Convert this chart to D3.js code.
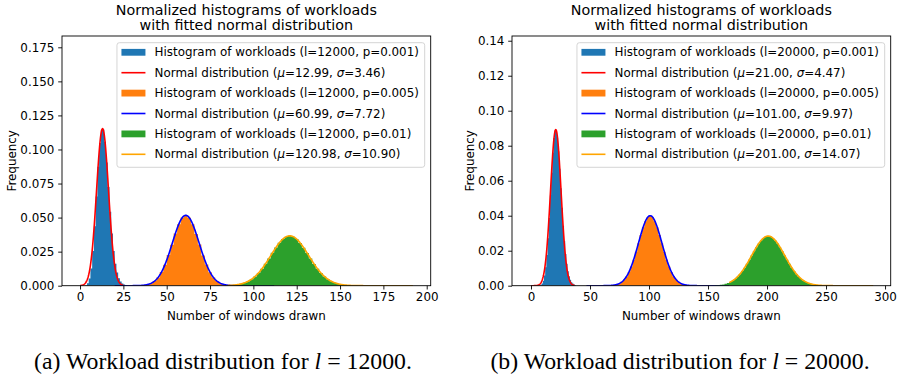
<!DOCTYPE html>
<html>
<head>
<meta charset="utf-8">
<script src="https://cdn.jsdelivr.net/npm/d3@7/dist/d3.min.js"></script>
<style>
  html, body { margin: 0; padding: 0; background: #fff; }
  svg { display: block; }
  .tick text, .lbl { font-family: "DejaVu Sans", sans-serif; }
</style>
</head>
<body>
<svg id="chart" width="897" height="381"></svg>
<script>
// ---- data -------------------------------------------------------------
const sampleLengths = [12000, 20000];
const probabilities = ["0.001", "0.005", "0.01"];

// fitted normal parameters per panel (p = 0.001, 0.005, 0.01)
const muA = [12.99, 60.99, 120.98];
const sigmaA = [3.46, 7.72, 10.90];
const muB = [21.00, 101.00, 201.00];
const sigmaB = [4.47, 9.97, 14.07];

// x-extent of each fitted curve (min/max observed workload)
const fitRangeA = [[0, 25], [20, 112], [85, 192]];
const fitRangeB = [[0, 37], [47, 168], [168, 290]];

// histogram bins: first bin edge, bin width, densities
const binStartA = [3, 36, 86];
const binWidthA = [1, 2, 2];
const histA_p001 = [0.0004, 0.0018, 0.0053, 0.0127, 0.0255, 0.0437, 0.0655, 0.0874, 0.1048, 0.1144,
  0.1146, 0.1056, 0.0905, 0.0724, 0.0543, 0.0383, 0.0255, 0.0161, 0.0097, 0.0055, 0.0030, 0.0016, 0.0008, 0.0004];
const histA_p005 = [0.0004, 0.0009, 0.0018, 0.0034, 0.0061, 0.0100, 0.0154, 0.0225, 0.0301, 0.0383,
  0.0451, 0.0500, 0.0516, 0.0498, 0.0452, 0.0380, 0.0303, 0.0222, 0.0155, 0.0098, 0.0060, 0.0035,
  0.0018, 0.0009, 0.0004, 0.0002];
const histA_p01 = [0.0003, 0.0005, 0.0008, 0.0014, 0.0021, 0.0032, 0.0048, 0.0068, 0.0094, 0.0125,
  0.0161, 0.0200, 0.0241, 0.0280, 0.0315, 0.0342, 0.0360, 0.0366, 0.0360, 0.0342, 0.0314, 0.0279,
  0.0240, 0.0199, 0.0160, 0.0124, 0.0093, 0.0068, 0.0048, 0.0032, 0.0021, 0.0013, 0.0008, 0.0005,
  0.0003, 0.0002, 0.0001];

const binStartB = [7, 68, 156];
const binWidthB = [1, 2, 2];
const histB_p001 = [0.0002, 0.0005, 0.0013, 0.0029, 0.0058, 0.0106, 0.0176, 0.0271, 0.0387, 0.0516,
  0.0646, 0.0760, 0.0844, 0.0888, 0.0890, 0.0846, 0.0769, 0.0669, 0.0557, 0.0446, 0.0343, 0.0254,
  0.0181, 0.0125, 0.0083, 0.0054, 0.0034, 0.0020, 0.0012, 0.0007, 0.0004];
const histB_p005 = [0.0002, 0.0004, 0.0008, 0.0013, 0.0022, 0.0035, 0.0053, 0.0078, 0.0110, 0.0149,
  0.0194, 0.0242, 0.0290, 0.0334, 0.0369, 0.0392, 0.0400, 0.0392, 0.0369, 0.0334, 0.0290, 0.0242,
  0.0194, 0.0149, 0.0110, 0.0078, 0.0053, 0.0035, 0.0022, 0.0013, 0.0008, 0.0004, 0.0002];
const histB_p01 = [0.0002, 0.0003, 0.0005, 0.0007, 0.0011, 0.0015, 0.0021, 0.0029, 0.0039, 0.0051,
  0.0066, 0.0084, 0.0103, 0.0125, 0.0149, 0.0173, 0.0197, 0.0220, 0.0241, 0.0259, 0.0272, 0.0281,
  0.0284, 0.0281, 0.0272, 0.0259, 0.0241, 0.0220, 0.0197, 0.0173, 0.0149, 0.0125, 0.0103, 0.0084,
  0.0066, 0.0051, 0.0039, 0.0029, 0.0021, 0.0015, 0.0011, 0.0007, 0.0005, 0.0003, 0.0002];

// axis ticks
const xTicksA = [0, 25, 50, 75, 100, 125, 150, 175, 200];
const yTicksA = [0, 0.025, 0.05, 0.075, 0.1, 0.125, 0.15, 0.175];
const xTicksB = [0, 50, 100, 150, 200, 250, 300];
const yTicksB = [0, 0.02, 0.04, 0.06, 0.08, 0.10, 0.12, 0.14];

const titleLines = ["Normalized histograms of workloads", "with fitted normal distribution"];
const xLabel = "Number of windows drawn";
const yLabel = "Frequency";
const captions = ["(a) Workload distribution for ", "(b) Workload distribution for "];

// ---- styling ----------------------------------------------------------
const histColors = ["#1f77b4", "#ff7f0e", "#2ca02c"];
const curveColors = ["#ff0000", "#0000ff", "#ffa500"];
const FS = 11.9;
const TITLE_FS = 14.3;

const panels = [
  {
    box: { left: 62, right: 430.7, top: 36, bottom: 285.7 },
    xDomain: [-10.4, 202.3], yDomain: [0, 0.1833],
    xTicks: xTicksA, yTicks: yTicksA, yFmt: d3.format(".3f"),
    mu: muA, sigma: sigmaA, ranges: fitRangeA,
    binStart: binStartA, binWidth: binWidthA, hists: [histA_p001, histA_p005, histA_p01],
    len: sampleLengths[0], yLabelX: 12, capX: 223, caption: captions[0]
  },
  {
    box: { left: 512, right: 890.7, top: 36, bottom: 285.7 },
    xDomain: [-16.1, 304.8], yDomain: [0, 0.1427],
    xTicks: xTicksB, yTicks: yTicksB, yFmt: d3.format(".2f"),
    mu: muB, sigma: sigmaB, ranges: fitRangeB,
    binStart: binStartB, binWidth: binWidthB, hists: [histB_p001, histB_p005, histB_p01],
    len: sampleLengths[1], yLabelX: 470, capX: 680, caption: captions[1]
  }
];

const svg = d3.select("#chart");
svg.append("rect").attr("width", 897).attr("height", 381).attr("fill", "#fff");

function normalPdf(x, mu, s) {
  return Math.exp(-((x - mu) ** 2) / (2 * s * s)) / (s * Math.sqrt(2 * Math.PI));
}

panels.forEach((p, pi) => {
  const b = p.box;
  const x = d3.scaleLinear().domain(p.xDomain).range([b.left, b.right]);
  const y = d3.scaleLinear().domain(p.yDomain).range([b.bottom, b.top]);
  const g = svg.append("g");

  const clipId = "clip" + pi;
  g.append("clipPath").attr("id", clipId).append("rect")
    .attr("x", b.left).attr("y", b.top).attr("width", b.right - b.left).attr("height", b.bottom - b.top);
  const plot = g.append("g").attr("clip-path", `url(#${clipId})`);

  // histograms (as one stepped outline each) and their fitted curves
  p.hists.forEach((vals, si) => {
    const bins = vals.map((v, i) => ({ x0: p.binStart[si] + i * p.binWidth[si], x1: p.binStart[si] + (i + 1) * p.binWidth[si], v }));
    const stepPts = [[bins[0].x0, 0]];
    bins.forEach(d => { stepPts.push([d.x0, d.v], [d.x1, d.v]); });
    stepPts.push([bins[bins.length - 1].x1, 0]);
    plot.append("path").datum(stepPts)
      .attr("d", d3.line().x(d => x(d[0])).y(d => y(d[1])))
      .attr("fill", histColors[si]).attr("stroke", "none");

    const [r0, r1] = p.ranges[si];
    const pts = d3.range(r0, r1 + 0.001, 0.25).map(t => [t, normalPdf(t, p.mu[si], p.sigma[si])]);
    plot.append("path").datum(pts)
      .attr("d", d3.line().x(d => x(d[0])).y(d => y(d[1])))
      .attr("fill", "none").attr("stroke", curveColors[si]).attr("stroke-width", 1.6)
      .attr("stroke-linejoin", "round");
  });

  // axes
  const xAxis = g.append("g").attr("transform", `translate(0,${b.bottom})`)
    .call(d3.axisBottom(x).tickValues(p.xTicks).tickSize(3.8).tickPadding(2.6).tickFormat(d3.format("d")));
  const yAxis = g.append("g").attr("transform", `translate(${b.left},0)`)
    .call(d3.axisLeft(y).tickValues(p.yTicks).tickSize(3.8).tickPadding(3.8).tickFormat(p.yFmt));
  [xAxis, yAxis].forEach(a => {
    a.select(".domain").remove();
    a.selectAll(".tick line").attr("stroke", "#000").attr("stroke-width", 0.9);
    a.selectAll(".tick text").attr("font-size", FS).attr("fill", "#000");
  });

  // frame
  g.append("rect").attr("x", b.left).attr("y", b.top)
    .attr("width", b.right - b.left).attr("height", b.bottom - b.top)
    .attr("fill", "none").attr("stroke", "#000").attr("stroke-width", 0.9);

  // titles & labels
  const cx = (b.left + b.right) / 2;
  titleLines.forEach((t, i) => {
    g.append("text").attr("class", "lbl").attr("x", cx).attr("y", 14.5 + i * 15.5)
      .attr("text-anchor", "middle").attr("font-size", TITLE_FS).attr("fill", "#000").text(t);
  });
  g.append("text").attr("class", "lbl").attr("x", cx).attr("y", 319.5)
    .attr("text-anchor", "middle").attr("font-size", FS).attr("fill", "#000").text(xLabel);
  g.append("text").attr("class", "lbl")
    .attr("transform", `translate(${p.yLabelX},${(b.top + b.bottom) / 2}) rotate(-90)`)
    .attr("text-anchor", "middle").attr("dominant-baseline", "central")
    .attr("font-size", FS).attr("fill", "#000").text(yLabel);

  // legend
  const leg = g.append("g");
  const frame = leg.append("rect");
  const rowY0 = 52.3, rowStep = 20.4, textX = 37.6;
  const items = [];
  probabilities.forEach((pr, si) => {
    items.push({ kind: "hist", color: histColors[si], parts: [[`Histogram of workloads (l=${p.len}, p=${pr})`, false]] });
    items.push({
      kind: "line", color: curveColors[si], parts: [
        ["Normal distribution (", false], ["\u03bc", true], [`=${p.mu[si].toFixed(2)}, `, false],
        ["\u03c3", true], [`=${p.sigma[si].toFixed(2)})`, false]]
    });
  });
  let maxW = 0;
  const texts = [];
  items.forEach((it, i) => {
    const yy = rowY0 + i * rowStep;
    if (it.kind === "hist") {
      leg.append("rect").attr("class", "h").attr("y", yy - 3.4).attr("width", 24).attr("height", 6.8).attr("fill", it.color);
    } else {
      leg.append("line").attr("class", "h").attr("y1", yy).attr("y2", yy).attr("stroke", it.color).attr("stroke-width", 1.6);
    }
    const t = leg.append("text").attr("class", "lbl").attr("y", yy).attr("dominant-baseline", "central")
      .attr("font-size", FS).attr("fill", "#000");
    it.parts.forEach(([s, it2]) => t.append("tspan").attr("font-style", it2 ? "italic" : null).text(s));
    texts.push(t);
    maxW = Math.max(maxW, t.node().getComputedTextLength());
  });
  const boxW = textX + maxW + 5.8;
  const boxX = b.right - 6 - boxW;
  frame.attr("x", boxX).attr("y", 42.7).attr("width", boxW).attr("height", 124.6)
    .attr("rx", 2.5).attr("fill", "#fff").attr("fill-opacity", 0.8)
    .attr("stroke", "#d0d0d0").attr("stroke-width", 0.9);
  leg.selectAll("rect.h").attr("x", boxX + 4.5);
  leg.selectAll("line.h").attr("x1", boxX + 4.5).attr("x2", boxX + 28.5);
  texts.forEach(t => t.attr("x", boxX + textX));

  // caption below panel
  const cap = svg.append("text").attr("x", p.capX).attr("y", 369).attr("text-anchor", "middle")
    .attr("font-family", "'Liberation Serif', 'DejaVu Serif', serif").attr("font-size", 23.8).attr("fill", "#000");
  cap.append("tspan").text(p.caption);
  cap.append("tspan").attr("font-style", "italic").text("l");
  cap.append("tspan").text(` = ${p.len}.`);
});
</script>
</body>
</html>
